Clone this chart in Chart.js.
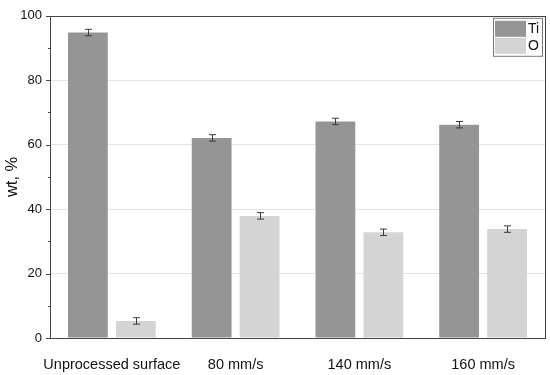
<!DOCTYPE html>
<html>
<head>
<meta charset="utf-8">
<script src="https://cdn.jsdelivr.net/npm/chart.js@4"></script>
<style>
	body { margin: 0; background: #fff; }
	#wrap { width: 550px; height: 375px; }
</style>
</head>
<body>
<div id="wrap"><canvas id="chart"></canvas></div>
<script>
const categories = ['Unprocessed surface', '80 mm/s', '140 mm/s', '160 mm/s'];
const tiValues = [94.8, 62.1, 67.2, 66.2];
const tiErrors = [1.0, 1.0, 1.0, 1.0];
const oValues = [5.3, 37.9, 32.8, 33.8];
const oErrors = [1.0, 1.0, 1.0, 1.0];
const yTicks = [0, 20, 40, 60, 80, 100];

const axisColor = '#444';

// error bars, drawn through the y scale
const errorBars = {
	id: 'errorBars',
	afterDatasetsDraw(chart) {
		const ctx = chart.ctx;
		const y = chart.scales.y;
		ctx.save();
		ctx.strokeStyle = '#3a3a3a';
		ctx.lineWidth = 1;
		chart.data.datasets.forEach(function(ds, i) {
			const meta = chart.getDatasetMeta(i);
			meta.data.forEach(function(bar, j) {
				const v = ds.data[j], e = ds.errors[j];
				const x = Math.round(bar.x) + 0.5;
				const top = y.getPixelForValue(v + e);
				const bot = y.getPixelForValue(v - e);
				ctx.beginPath();
				ctx.moveTo(x, top); ctx.lineTo(x, bot);
				ctx.moveTo(x - 3.5, top); ctx.lineTo(x + 3.5, top);
				ctx.moveTo(x - 3.5, bot); ctx.lineTo(x + 3.5, bot);
				ctx.stroke();
			});
		});
		ctx.restore();
	}
};

// frame, y ticks (major + minor) and legend box
const frame = {
	id: 'frame',
	afterDraw(chart) {
		const ctx = chart.ctx;
		const a = chart.chartArea;
		const y = chart.scales.y;
		ctx.save();
		ctx.strokeStyle = axisColor;
		ctx.lineWidth = 1;
		ctx.strokeRect(Math.round(a.left) + 0.5, Math.round(a.top) + 0.5,
			Math.round(a.right - a.left), Math.round(a.bottom - a.top));

		ctx.beginPath();
		for (let v = 0; v <= 100; v += 10) {
			const py = Math.round(y.getPixelForValue(v)) + 0.5;
			const len = v % 20 === 0 ? 4 : 2;
			ctx.moveTo(a.left - len, py);
			ctx.lineTo(a.left, py);
		}
		ctx.stroke();

		// legend
		const bx = a.right - 52, by = a.top + 2, bw = 49, bh = 38;
		ctx.fillStyle = '#fff';
		ctx.fillRect(bx, by, bw, bh);
		ctx.strokeStyle = '#777';
		ctx.strokeRect(bx + 0.5, by + 0.5, bw, bh);
		ctx.font = '14px "Liberation Sans", Arial, sans-serif';
		ctx.textBaseline = 'middle';
		chart.data.datasets.forEach(function(ds, i) {
			const sy = by + 3 + i * 17;
			ctx.fillStyle = ds.backgroundColor;
			ctx.fillRect(bx + 2, sy, 31, 16);
			ctx.fillStyle = '#111';
			ctx.fillText(ds.label, bx + 35, sy + 8);
		});
		ctx.restore();
	}
};

new Chart(document.getElementById('chart'), {
	type: 'bar',
	data: {
		labels: categories,
		datasets: [
			{ label: 'Ti', data: tiValues, errors: tiErrors, backgroundColor: '#959595' },
			{ label: 'O', data: oValues, errors: oErrors, backgroundColor: '#d4d4d4' }
		]
	},
	options: {
		responsive: true,
		maintainAspectRatio: false,
		animation: false,
		layout: { padding: { top: 12, right: 5, left: 0, bottom: 0 } },
		datasets: {
			bar: { categoryPercentage: 0.775, barPercentage: 0.83 }
		},
		plugins: {
			legend: { display: false },
			tooltip: { enabled: false }
		},
		scales: {
			x: {
				grid: { display: false, drawTicks: false },
				border: { display: false },
				ticks: {
					color: '#111',
					padding: 18,
					maxRotation: 0,
					autoSkip: false,
					font: { family: '"Liberation Sans", Arial, sans-serif', size: 14.5 }
				},
				afterFit(scale) { scale.height = 37; }
			},
			y: {
				min: 0,
				max: 100,
				afterBuildTicks(scale) {
					scale.ticks = yTicks.map(function(v) { return { value: v }; });
				},
				grid: {
					drawTicks: false,
					color(c) {
						const v = c.tick.value;
						return (v === 0 || v === 100) ? 'rgba(0,0,0,0)' : '#e4e4e4';
					}
				},
				border: { display: false },
				ticks: {
					color: '#111',
					padding: 8,
					font: { family: '"Liberation Sans", Arial, sans-serif', size: 13 }
				},
				title: {
					display: true,
					text: 'wt, %',
					color: '#111',
					padding: { top: 3, bottom: 0 },
					font: { family: '"Liberation Sans", Arial, sans-serif', size: 16.5 }
				},
				afterFit(scale) { scale.width = 50; }
			}
		}
	},
	plugins: [errorBars, frame]
});
</script>
</body>
</html>
